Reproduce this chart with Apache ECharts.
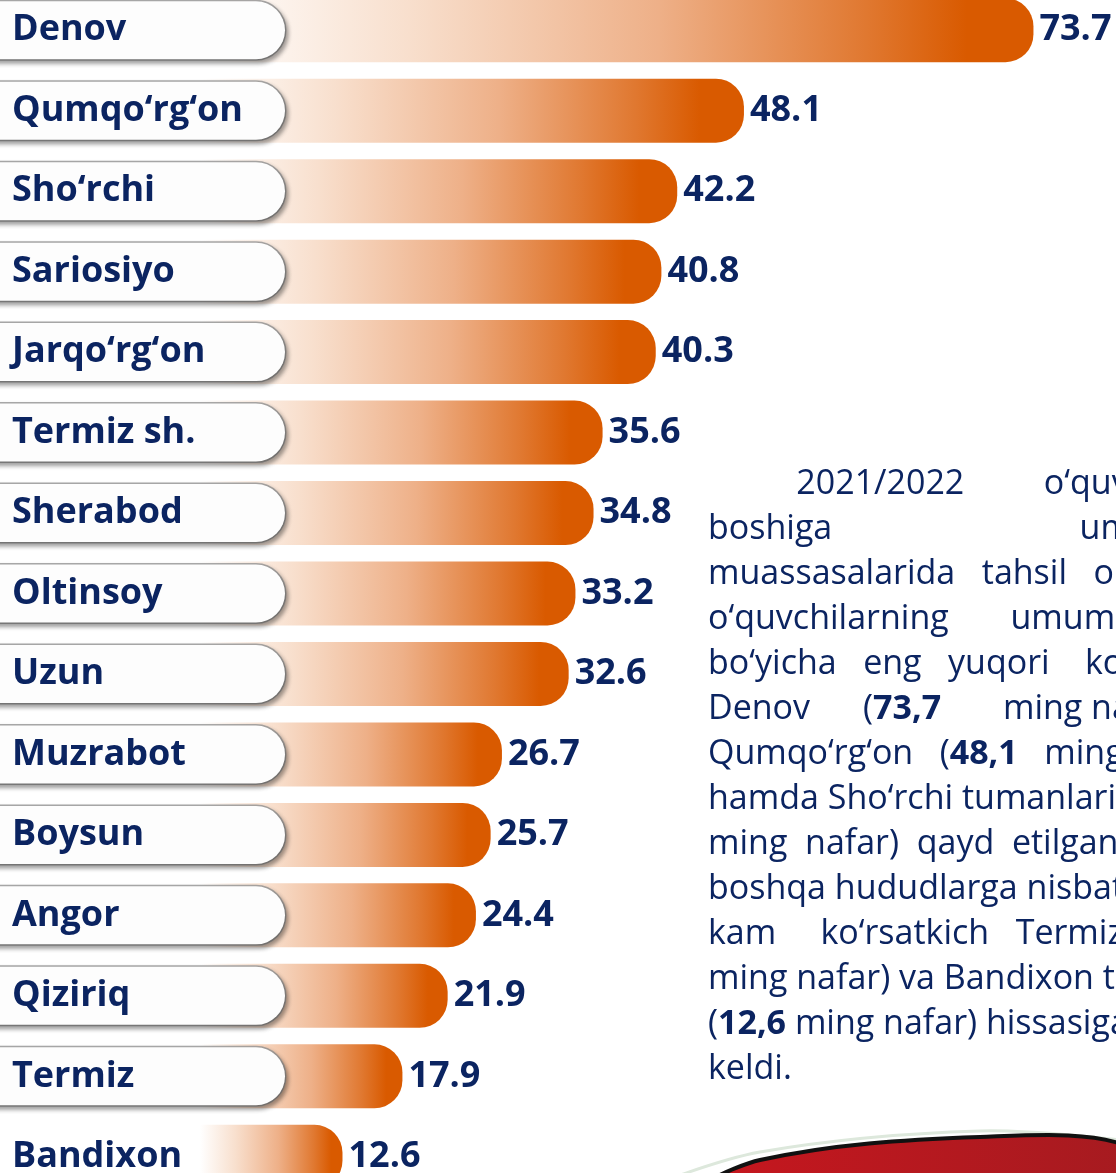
<!DOCTYPE html>
<html>
<head>
<meta charset="utf-8">
<title>O‘quvchilar soni</title>
<script src="https://cdn.jsdelivr.net/npm/echarts@6/dist/echarts.min.js"></script>
<style>
  html, body { margin: 0; padding: 0; background: #fff; }
  #chart { width: 1116px; height: 1173px; }
</style>
</head>
<body>
<div id="chart"></div>
<script>
// tumanlar va o'quvchilar soni (ming nafar)
const districts = ['Denov', 'Qumqo‘rg‘on', 'Sho‘rchi', 'Sariosiyo', 'Jarqo‘rg‘on', 'Termiz sh.',
  'Sherabod', 'Oltinsoy', 'Uzun', 'Muzrabot', 'Boysun', 'Angor', 'Qiziriq', 'Termiz', 'Bandixon'];
const pupils = [73.7, 48.1, 42.2, 40.8, 40.3, 35.6, 34.8, 33.2, 32.6, 26.7, 25.7, 24.4, 21.9, 17.9, 12.6];

const navy = '#0b2461';
const font = '"Open Sans", "Noto Sans", sans-serif';

// matn (o'ng tomonda)
const paragraph = [
  '          2021/2022         o‘quv yili',
  'boshiga                            umumta‘lim',
  'muassasalarida   tahsil   olayotgan',
  'o‘quvchilarning       umumiy soni',
  'bo‘yicha   eng   yuqori    ko‘rsatkich',
  'Denov      ({b|73,7}       ming nafar),',
  'Qumqo‘rg‘on   ({b|48,1}   ming nafar)',
  'hamda Sho‘rchi tumanlarida (42,2',
  'ming  nafar)  qayd  etilgan  bo‘lsa,',
  'boshqa hududlarga nisbatan eng',
  'kam     ko‘rsatkich   Termiz (17,9',
  'ming nafar) va Bandixon tumani',
  '({b|12,6} ming nafar) hissasiga to‘g‘ri',
  'keldi.'
];

function hGrad(stops) {
  return { type: 'linear', x: 0, y: 0, x2: 1, y2: 0, colorStops: stops };
}

const chart = echarts.init(document.getElementById('chart'));

const tabText = {
  fontFamily: font,
  fontSize: 36,
  fontWeight: 'bold',
  color: navy,
  width: 273,
  height: 58,
  lineHeight: 58,
  padding: [0, 0, 0, 22]
};

const option = {
  backgroundColor: '#fff',
  animation: false,
  grid: {
    left: 200, right: 0, top: -10, height: 1207,
    containLabel: false,
    outerBoundsMode: 'none'
  },
  xAxis: {
    type: 'value',
    min: 0,
    max: 81,
    show: false
  },
  yAxis: {
    type: 'category',
    inverse: true,
    data: districts,
    z: 10,
    axisLine: { show: false },
    axisTick: { show: false },
    splitLine: { show: false },
    axisLabel: {
      interval: 0,
      margin: 210,
      align: 'left',
      formatter: function (v, i) {
        return i === districts.length - 1 ? '{plain|' + v + '}' : '{tab|' + v + '}';
      },
      rich: {
        tab: Object.assign({}, tabText, {
          backgroundColor: '#fdfdfd',
          borderColor: 'rgba(150,150,150,0.8)',
          borderWidth: 1.5,
          borderRadius: [0, 30, 30, 0],
          shadowColor: 'rgba(0,0,0,0.35)',
          shadowBlur: 4,
          shadowOffsetX: 2,
          shadowOffsetY: 3
        }),
        plain: tabText
      }
    }
  },
  series: [{
    type: 'bar',
    data: pupils,
    barWidth: 64,
    itemStyle: {
      borderRadius: [0, 28, 28, 0],
      color: hGrad([
        { offset: 0, color: '#ffffff' },
        { offset: 0.25, color: '#f8dfcd' },
        { offset: 0.55, color: '#eeb088' },
        { offset: 0.8, color: '#e07830' },
        { offset: 0.92, color: '#d95a00' },
        { offset: 1, color: '#d95a00' }
      ])
    },
    label: {
      show: true,
      position: 'right',
      distance: 6,
      fontFamily: font,
      fontSize: 36,
      fontWeight: 'bold',
      color: navy,
      formatter: function (p) { return p.value.toFixed(1); }
    }
  }],
  graphic: [
    {
      type: 'text',
      x: 708,
      y: 462,
      z: 20,
      style: {
        text: paragraph.join('\n'),
        fontFamily: font,
        fontSize: 34,
        lineHeight: 45,
        fill: navy,
        rich: {
          b: { fontFamily: font, fontSize: 34, fontWeight: 'bold', lineHeight: 45, fill: navy }
        }
      }
    },
    {
      // pastki qizil bezak
      type: 'polygon',
      z: 5,
      shape: {
        points: [[690, 1200], [760, 1160], [980, 1137], [1130, 1147], [1130, 1200]],
        smooth: 0.35
      },
      style: {
        fill: hGrad([
          { offset: 0, color: '#c8161e' },
          { offset: 1, color: '#a51b20' }
        ]),
        stroke: '#111',
        lineWidth: 4
      }
    },
    {
      type: 'polyline',
      z: 4,
      shape: {
        points: [[640, 1190], [760, 1152], [980, 1131], [1130, 1141]],
        smooth: 0.35
      },
      style: { fill: null, stroke: '#dde8dc', lineWidth: 3 }
    }
  ]
};

chart.setOption(option);
</script>
</body>
</html>
